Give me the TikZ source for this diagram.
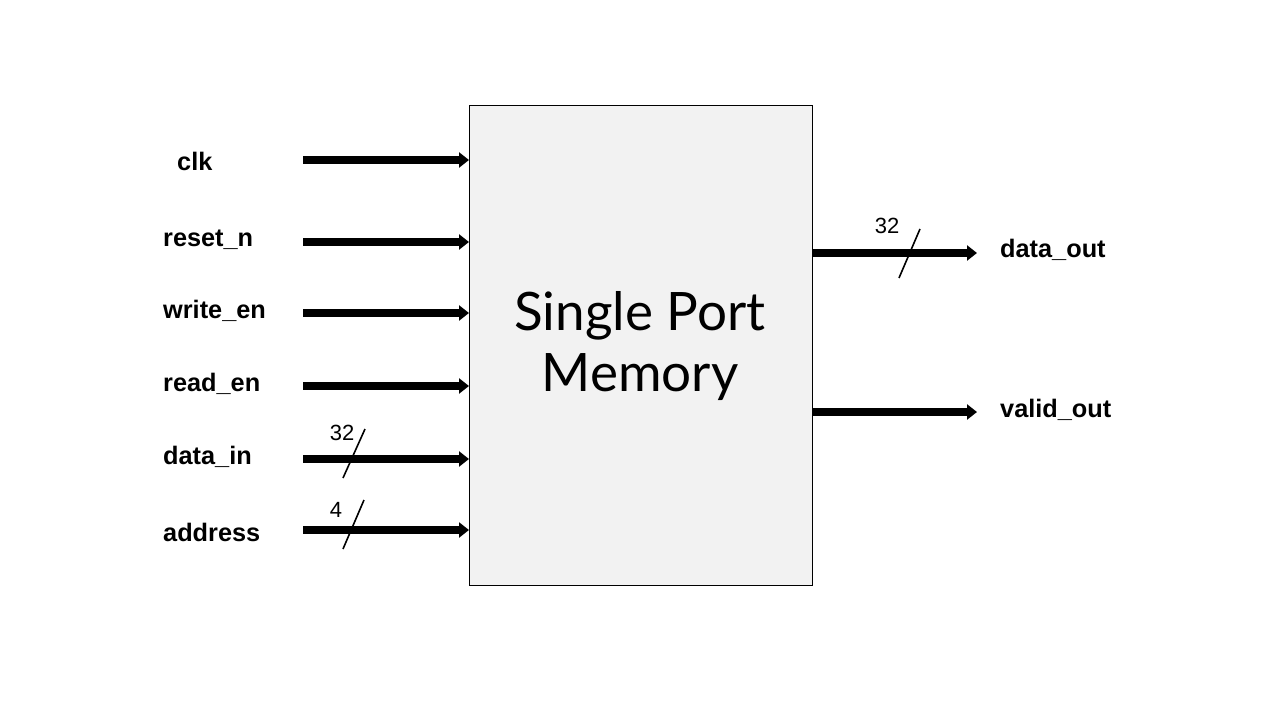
\documentclass[tikz,border=0pt]{standalone}
\usepackage{fontspec}
\setmainfont{Liberation Sans}
\newfontfamily\titlefont{Lato}
\usetikzlibrary{arrows.meta}
\definecolor{boxgray}{HTML}{F2F2F2}
\tikzset{
  sig/.style={line width=7.5pt, -{Triangle[length=10pt,width=15pt]}},
  lbl/.style={anchor=west, inner sep=0pt, font=\fontsize{25.3}{28}\selectfont\bfseries},
  busnum/.style={inner sep=0pt, font=\fontsize{22}{24}\selectfont},
  slash/.style={line width=1.6pt},
}
\begin{document}
\begin{tikzpicture}[x=1pt,y=-1pt]
\useasboundingbox (0,0) rectangle (1280,720);
\node[draw=black, line width=0.9pt, fill=boxgray, minimum width=343pt, minimum height=480pt, inner sep=0pt, anchor=north west] (box) at (469,105) {};
\node[font=\titlefont\fontsize{53}{61}\selectfont, align=center] (title) at (640,346) {Single Port\\Memory};
% input labels
\node[lbl] (clk) at (177,161) {clk};
\node[lbl] (rst) at (163,240) {reset\_n};
\node[lbl] (we) at (163,311) {write\_en};
\node[lbl] (re) at (163,384) {read\_en};
\node[lbl] (din) at (163,457) {data\_in};
\node[lbl] (addr) at (163,532) {address};
% output labels
\node[lbl] (dout) at (1000,250) {data\_out};
\node[lbl] (vout) at (1000,410) {valid\_out};
% input arrows
\coordinate (clkS) at (303,160);
\coordinate (rstS) at (303,242);
\coordinate (weS) at (303,313);
\coordinate (reS) at (303,386);
\coordinate (dinS) at (303,459);
\coordinate (addrS) at (303,530);
\foreach \s in {clkS,rstS,weS,reS,dinS,addrS}
  \draw[sig] (\s) -- (\s -| box.west);
% output arrows
\coordinate (doutE) at (977,253);
\coordinate (voutE) at (977,412);
\draw[sig] (doutE -| box.east) -- (doutE);
\draw[sig] (voutE -| box.east) -- (voutE);
% bus slashes
\coordinate (s1a) at (343,478); \coordinate (s1b) at (365,429);
\coordinate (s2a) at (343,549); \coordinate (s2b) at (364,500);
\coordinate (s3a) at (899,278); \coordinate (s3b) at (920,229);
\draw[slash] (s1a) -- (s1b);
\draw[slash] (s2a) -- (s2b);
\draw[slash] (s3a) -- (s3b);
\node[busnum] (n1) at (342,433) {32};
\node[busnum] (n2) at (336,510) {4};
\node[busnum] (n3) at (887,226) {32};
\end{tikzpicture}
\end{document}
